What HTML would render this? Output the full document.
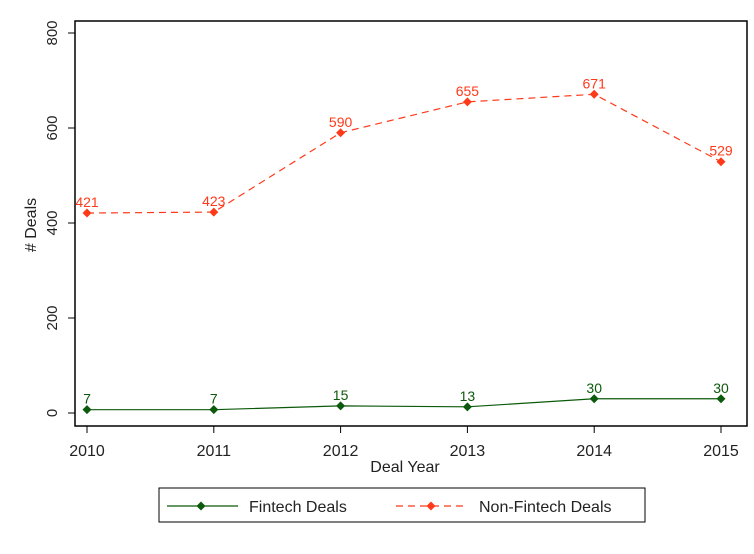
<!DOCTYPE html>
<html><head><meta charset="utf-8"><style>body{margin:0;background:#fff}svg{font-family:"Liberation Sans",sans-serif}</style></head>
<body>
<svg id="c" width="754" height="549"></svg>
<script>
const years=[2010,2011,2012,2013,2014,2015];
const fintech=[7,7,15,13,30,30];
const nonFintech=[421,423,590,655,671,529];
const yTicks=[0,200,400,600,800];
const NS="http://www.w3.org/2000/svg";
const svg=document.getElementById('c');
const L=75,R=747,T=21,B=426;
const x=v=>87+(v-2010)*(721-87)/5;
const y=v=>413-v*(413-33)/800;
function mk(t,a,txt){const e=document.createElementNS(NS,t);for(const k in a)e.setAttribute(k,a[k]);if(txt!==undefined)e.textContent=txt;svg.appendChild(e);return e;}
let e=mk('rect',{x:L,y:T,width:R-L,height:B-T,fill:'#fff',stroke:'#000','stroke-width':1.5});

yTicks.forEach(t=>{
 let l=mk('line',{x1:L-7,x2:L,y1:y(t),y2:y(t),stroke:'#000'});
 
 let tx=mk('text',{x:0,y:0,transform:`translate(${L-18},${y(t)}) rotate(-90)`,'text-anchor':'middle','font-size':15,fill:'#222'},t);
 
});
years.forEach(v=>{
 let l=mk('line',{x1:x(v),x2:x(v),y1:B,y2:B+7,stroke:'#000'});
 
 let tx=mk('text',{x:x(v),y:456,'text-anchor':'middle','font-size':16,fill:'#222'},v);
 
});
e=mk('text',{x:405,y:472,'text-anchor':'middle','font-size':16,fill:'#222'},'Deal Year');

e=mk('text',{x:0,y:0,transform:`translate(36,225) rotate(-90)`,'text-anchor':'middle','font-size':16,fill:'#222'},'# Deals');

function series(vals,color,dash,name){
 let p=mk('polyline',{points:vals.map((v,i)=>x(years[i])+','+y(v)).join(' '),fill:'none',stroke:color,'stroke-width':1.2,'stroke-dasharray':dash});
 
 vals.forEach((v,i)=>{
  const cx=x(years[i]),cy=y(v);
  let d=mk('polygon',{points:`${cx},${cy-4.5} ${cx+4.5},${cy} ${cx},${cy+4.5} ${cx-4.5},${cy}`,fill:color});
  
  let t=mk('text',{x:cx,y:cy-6,'text-anchor':'middle','font-size':14,fill:color},v);
  
 });
}
series(fintech,'#0b5a0b','none','fintech');
series(nonFintech,'#ff3a1a','7,5','non-fintech');
e=mk('rect',{x:159,y:488,width:486,height:34,fill:'#fff',stroke:'#000','stroke-width':1});

e=mk('line',{x1:167,x2:238,y1:506,y2:506,stroke:'#0b5a0b','stroke-width':1.2});
e=mk('polygon',{points:'201,501.5 205.5,506 201,510.5 196.5,506',fill:'#0b5a0b'});
e=mk('text',{x:249,y:512,'font-size':16,fill:'#222'},'Fintech Deals');
e=mk('line',{x1:396,x2:466,y1:506,y2:506,stroke:'#ff3a1a','stroke-width':1.2,'stroke-dasharray':'7,5'});
e=mk('polygon',{points:'431,501.5 435.5,506 431,510.5 426.5,506',fill:'#ff3a1a'});
e=mk('text',{x:479,y:512,'font-size':16,fill:'#222'},'Non-Fintech Deals');
</script>
</body></html>
